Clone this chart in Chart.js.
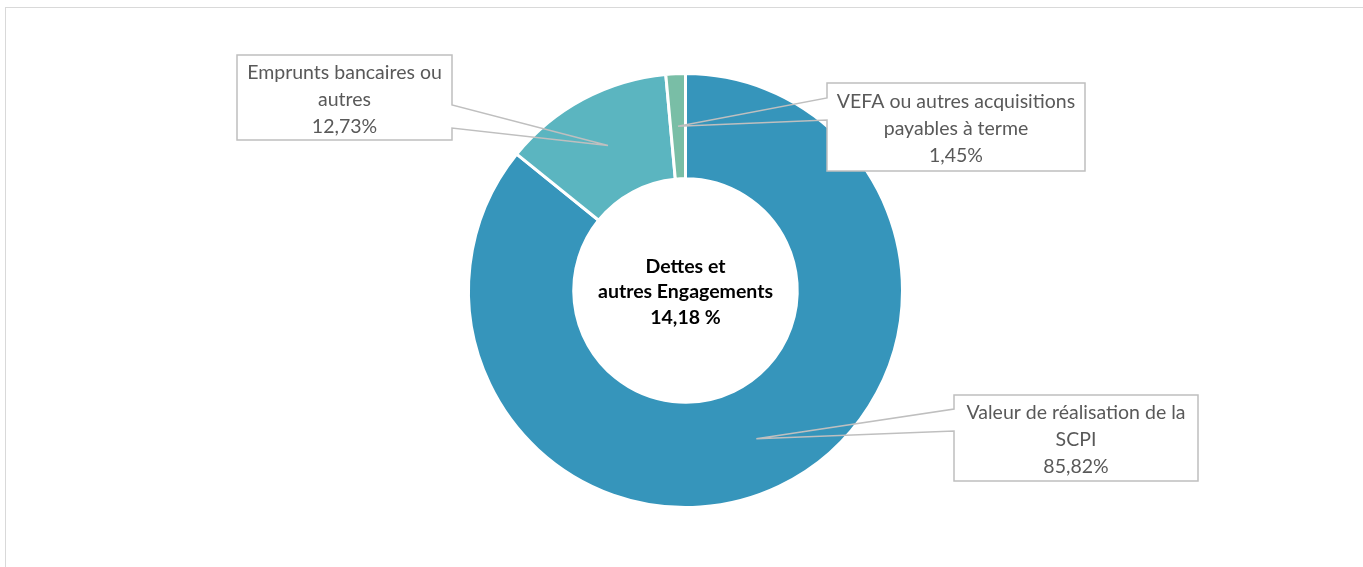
<!DOCTYPE html>
<html>
<head>
<meta charset="utf-8">
<script src="https://cdn.jsdelivr.net/npm/chart.js@4.4.1/dist/chart.umd.min.js"></script>
<style>
  body { margin: 0; background: #fff; overflow: hidden; }
  #frame { position: absolute; left: 5px; top: 7px; width: 1400px; height: 600px; border: 1.5px solid #d9d9d9; }
  #wrap { position: absolute; left: 0; top: 0; width: 1363px; height: 567px; }
</style>
</head>
<body>
<div id="frame"></div>
<div id="wrap"><canvas id="pieDettes" width="1363" height="567"></canvas></div>
<script>
// data
var categories = ["Valeur de réalisation de la SCPI", "Emprunts bancaires ou autres", "VEFA ou autres acquisitions payables à terme"];
var valeurs = [85.82, 12.73, 1.45];
var couleurs = ["#3695BB", "#5BB5C0", "#79BEA6"];
var centreTexte = ["Dettes et", "autres Engagements", "14,18 %"];

// label lines shown in the callouts (same order as categories)
var etiquettes = [
  ["Valeur de réalisation de la", "SCPI", "85,82%"],
  ["Emprunts bancaires ou", "autres", "12,73%"],
  ["VEFA ou autres acquisitions", "payables à terme", "1,45%"]
];
// callout boxes : x, y, w, h, side of the pointer
var boites = [
  { x: 954, y: 395, w: 244, h: 86, cote: "left", y1: 409, y2: 431 },
  { x: 237, y: 55, w: 215, h: 85, cote: "right", y1: 105, y2: 128 },
  { x: 827, y: 83, w: 258, h: 88, cote: "left", y1: 98, y2: 120 }
];

var POLICE = "Lato, 'Open Sans', sans-serif";

var calloutPlugin = {
  id: "callouts",
  afterDatasetsDraw: function (chart) {
    var ctx = chart.ctx;
    var meta = chart.getDatasetMeta(0);
    ctx.save();
    meta.data.forEach(function (arc, i) {
      var b = boites[i];
      var p = arc.tooltipPosition();
      ctx.beginPath();
      if (b.cote === "right") {
        ctx.moveTo(b.x, b.y);
        ctx.lineTo(b.x + b.w, b.y);
        ctx.lineTo(b.x + b.w, b.y1);
        ctx.lineTo(p.x, p.y);
        ctx.lineTo(b.x + b.w, b.y2);
        ctx.lineTo(b.x + b.w, b.y + b.h);
        ctx.lineTo(b.x, b.y + b.h);
      } else {
        ctx.moveTo(b.x, b.y);
        ctx.lineTo(b.x + b.w, b.y);
        ctx.lineTo(b.x + b.w, b.y + b.h);
        ctx.lineTo(b.x, b.y + b.h);
        ctx.lineTo(b.x, b.y2);
        ctx.lineTo(p.x, p.y);
        ctx.lineTo(b.x, b.y1);
      }
      ctx.closePath();
      ctx.fillStyle = "#ffffff";
      ctx.fillRect(b.x, b.y, b.w, b.h);
      ctx.strokeStyle = "#bfbfbf";
      ctx.lineWidth = 1.5;
      ctx.stroke();

      ctx.fillStyle = "#595959";
      ctx.font = "19.5px " + POLICE;
      ctx.textAlign = "center";
      ctx.textBaseline = "middle";
      var cx = b.x + b.w / 2;
      var lignes = etiquettes[i];
      var top = b.y + b.h / 2 - (lignes.length - 1) * 27 / 2 + 2;
      lignes.forEach(function (l, k) {
        ctx.fillText(l, cx, top + k * 27);
      });
    });

    // centre text
    var a0 = meta.data[0];
    ctx.fillStyle = "#000000";
    ctx.font = "bold 19.5px " + POLICE;
    ctx.textAlign = "center";
    ctx.textBaseline = "middle";
    centreTexte.forEach(function (l, k) {
      ctx.fillText(l, a0.x, a0.y - 24 + k * 25.5);
    });
    ctx.restore();
  }
};

var ctxD = document.getElementById("pieDettes").getContext("2d");
var myDoughnut = new Chart(ctxD, {
  type: "doughnut",
  data: {
    labels: categories,
    datasets: [
      {
        data: valeurs,
        backgroundColor: couleurs,
        borderColor: "#ffffff",
        borderWidth: 3,
      },
    ],
  },
  options: {
    responsive: false,
    animation: false,
    cutout: "51.5%",
    layout: { padding: { left: 8, right: 0, top: 72, bottom: 58 } },
    plugins: {
      legend: { display: false },
      tooltip: { enabled: false },
    },
  },
  plugins: [calloutPlugin],
});
</script>
</body>
</html>
